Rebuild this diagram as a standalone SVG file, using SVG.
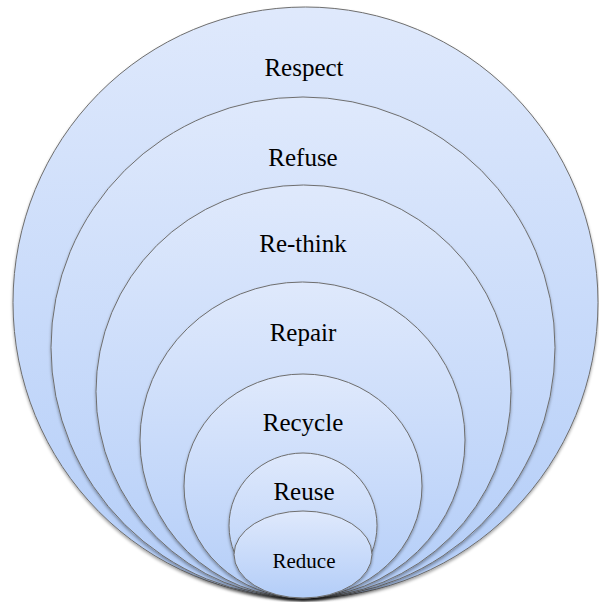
<svg xmlns="http://www.w3.org/2000/svg" width="599" height="602" viewBox="0 0 599 602">
<defs>
<linearGradient id="g" x1="0" y1="0" x2="0" y2="1">
<stop offset="0" stop-color="#dfe9fc"/>
<stop offset="1" stop-color="#b3cdf8"/>
</linearGradient>
<filter id="sh" x="-10%" y="-10%" width="120%" height="120%">
<feDropShadow dx="0" dy="2" stdDeviation="1.5" flood-color="#000" flood-opacity="0.35"/>
</filter>
<style>
.c{fill:url(#g);stroke:#6e6e6e;stroke-width:1;filter:url(#sh)}
.t{font-family:"Liberation Serif","Times New Roman",serif;font-size:25px;fill:#000;text-anchor:middle}
.s{font-size:21px}
</style>
</defs>
<rect width="599" height="602" fill="#fff"/>
<g id="respect"><ellipse class="c" cx="305.5" cy="302.5" rx="292.5" ry="295.5"/><text class="t" x="304" y="76">Respect</text></g>
<g id="refuse"><ellipse class="c" cx="303" cy="347.5" rx="252" ry="250.5"/><text class="t" x="303" y="166">Refuse</text></g>
<g id="rethink"><ellipse class="c" cx="303.5" cy="391.5" rx="207.5" ry="206.5"/><text class="t" x="303" y="252">Re-think</text></g>
<g id="repair"><ellipse class="c" cx="302.5" cy="440" rx="162.5" ry="158"/><text class="t" x="303" y="341">Repair</text></g>
<g id="recycle"><ellipse class="c" cx="303" cy="486" rx="119" ry="112"/><text class="t" x="303" y="431">Recycle</text></g>
<g id="reuse"><ellipse class="c" cx="303" cy="525.5" rx="74" ry="72.5"/><text class="t" x="304" y="500">Reuse</text></g>
<g id="reduce"><ellipse class="c" cx="303" cy="554.5" rx="69" ry="43.5"/><text class="t s" x="304" y="568">Reduce</text></g>
<g id="connectors"/>
</svg>
